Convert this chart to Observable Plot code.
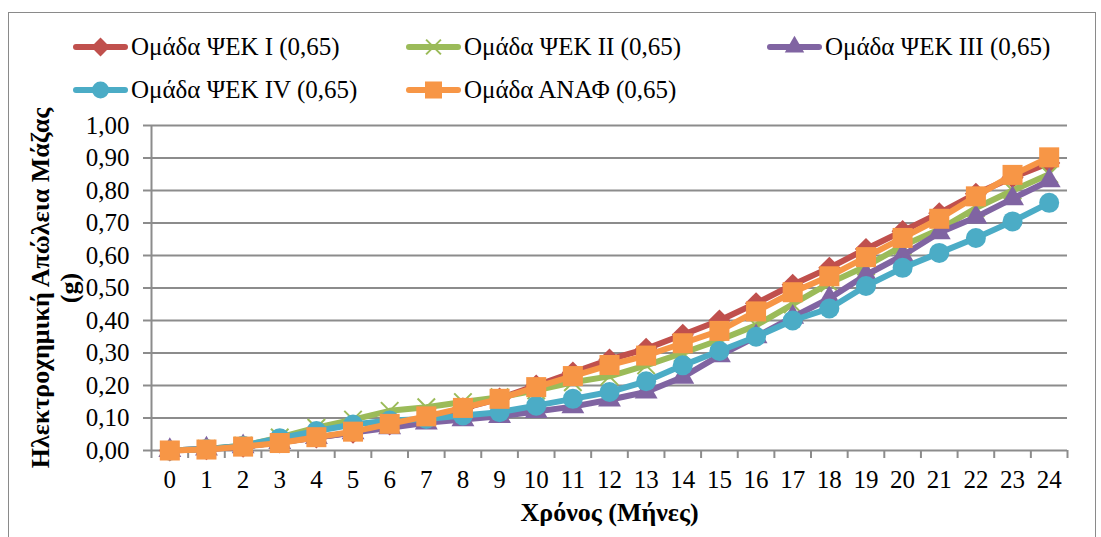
<!DOCTYPE html>
<html><head><meta charset="utf-8">
<script src="https://cdn.jsdelivr.net/npm/d3@7"></script>
<script src="https://cdn.jsdelivr.net/npm/@observablehq/plot@0.6"></script>
<style>
body{margin:0;background:#fff;}
#wrap{position:relative;width:1101px;height:537px;overflow:hidden;font-family:"Liberation Serif","Tinos","Times New Roman","DejaVu Serif","Noto Serif",serif;background:#fff;}
#frame{position:absolute;left:8px;top:12px;width:1088px;height:600px;border:1.5px solid #8a8a8a;box-sizing:border-box;}
#chart{position:absolute;left:0;top:0;}
.leg{position:absolute;display:flex;align-items:center;font-size:25px;white-space:nowrap;color:#000;}
.leg svg{margin-right:3px;}
</style></head>
<body><div id="wrap"><div id="frame"></div><div id="chart"></div><div id="legend"></div></div>
<script>
// ---- data ----
const months = [0,1,2,3,4,5,6,7,8,9,10,11,12,13,14,15,16,17,18,19,20,21,22,23,24];
const seriesNames = ["Ομάδα ΨΕΚ I (0,65)", "Ομάδα ΨΕΚ II (0,65)", "Ομάδα ΨΕΚ III (0,65)", "Ομάδα ΨΕΚ IV (0,65)", "Ομάδα ΑΝΑΦ (0,65)"];
const groupI   = [0, 0.004, 0.012, 0.025, 0.040, 0.055, 0.080, 0.100, 0.130, 0.160, 0.200, 0.240, 0.280, 0.313, 0.356, 0.400, 0.453, 0.510, 0.562, 0.620, 0.675, 0.730, 0.790, 0.840, 0.885];
const groupII  = [0, 0.005, 0.015, 0.040, 0.070, 0.095, 0.122, 0.133, 0.149, 0.164, 0.185, 0.210, 0.228, 0.262, 0.300, 0.340, 0.385, 0.450, 0.515, 0.567, 0.630, 0.680, 0.746, 0.800, 0.850];
const groupIII = [0, 0.005, 0.012, 0.025, 0.040, 0.055, 0.070, 0.085, 0.095, 0.105, 0.120, 0.135, 0.156, 0.180, 0.226, 0.292, 0.350, 0.410, 0.468, 0.540, 0.600, 0.670, 0.718, 0.775, 0.830];
const groupIV  = [0, 0.005, 0.015, 0.038, 0.060, 0.080, 0.092, 0.097, 0.108, 0.118, 0.138, 0.159, 0.180, 0.213, 0.262, 0.306, 0.350, 0.400, 0.437, 0.506, 0.562, 0.608, 0.654, 0.705, 0.762];
const groupAnaf= [0, 0.003, 0.012, 0.023, 0.041, 0.058, 0.082, 0.105, 0.131, 0.159, 0.195, 0.229, 0.263, 0.292, 0.330, 0.368, 0.428, 0.487, 0.536, 0.595, 0.654, 0.713, 0.782, 0.848, 0.902];
const yTicks = [0, 0.1, 0.2, 0.3, 0.4, 0.5, 0.6, 0.7, 0.8, 0.9, 1.0];
const xTitle = "Χρόνος (Μήνες)";
const yTitle = "Ηλεκτροχημική Απώλεια Μάζας\n(g)";

// ---- styles ----
const seriesValues = [groupI, groupII, groupIII, groupIV, groupAnaf];
const seriesStyle = [
  {color: "#C0504D", symbol: "diamond2", r: 10, filled: true},
  {color: "#9BBB59", symbol: "times", r: 8, filled: false},
  {color: "#8064A2", symbol: "triangle", r: 8.5, filled: true},
  {color: "#4BACC6", symbol: "circle", r: 10, filled: true},
  {color: "#F79646", symbol: "square", r: 11.3, filled: true}
];
const gray = "#8c8c8c";
const serif = "'Liberation Serif','Tinos','Times New Roman','DejaVu Serif','Noto Serif',serif";
const fmt = d => d.toFixed(2).replace(".", ",");

const rows = seriesNames.flatMap((name, s) => months.map((m, i) => ({series: name, s, month: m, value: seriesValues[s][i]})));
const boundaries = d3.range(-0.5, months.length, 1);

const marks = [
  Plot.gridY(yTicks, {stroke: gray, strokeOpacity: 1, strokeWidth: 2}),
  Plot.ruleX([-0.5], {stroke: gray, strokeWidth: 2}),
  Plot.axisY(yTicks, {tickSize: 8, tickPadding: 14, tickFormat: fmt, fontSize: 25, fontFamily: serif, stroke: gray, strokeWidth: 2, fill: "#000", label: null}),
  Plot.axisX(boundaries, {tickSize: 8, tickFormat: () => "", stroke: gray, strokeWidth: 2, label: null}),
  Plot.axisX(months, {tickSize: 0, tickPadding: 20, fontSize: 25, fontFamily: serif, fill: "#000", label: null, tickFormat: d => String(d)})
];
seriesNames.forEach((name, s) => {
  const st = seriesStyle[s];
  const data = rows.filter(d => d.s === s);
  marks.push(Plot.line(data, {x: "month", y: "value", stroke: st.color, strokeWidth: 6, strokeLinejoin: "round", strokeLinecap: "round"}));
  marks.push(Plot.dot(data, st.filled
    ? {x: "month", y: "value", symbol: () => st.symbol, r: st.r, fill: st.color, stroke: "none"}
    : {x: "month", y: "value", symbol: () => st.symbol, r: st.r, fill: "none", stroke: st.color, strokeWidth: 2}));
});
marks.push(Plot.text([yTitle], {frameAnchor: "left", textAnchor: "middle", rotate: -90, dx: -97.5, fontSize: 26, fontFamily: serif, fontWeight: "bold", lineAnchor: "middle", lineHeight: 1.12, fill: "#000"}));
marks.push(Plot.text([xTitle], {frameAnchor: "bottom", dy: 70, fontSize: 26, fontFamily: serif, fontWeight: "bold", fill: "#000"}));

const chart = Plot.plot({
  width: 1101, height: 537,
  marginLeft: 151, marginRight: 34, marginTop: 125, marginBottom: 87,
  x: {domain: [-0.5, months.length - 0.5]},
  y: {domain: [0, 1]},
  symbol: {type: "identity"},
  style: {fontFamily: serif, fontSize: "24px", background: "transparent", color: "#000", overflow: "visible"},
  marks
});
document.getElementById("chart").appendChild(chart);

// ---- legend (HTML) ----
const legPos = [[73, 47], [406, 47], [767, 47], [73, 90], [406, 90]];
const symMap = {diamond2: d3.symbolDiamond2, times: d3.symbolTimes, triangle: d3.symbolTriangle, circle: d3.symbolCircle, square: d3.symbolSquare};
const legend = document.getElementById("legend");
seriesNames.forEach((name, s) => {
  const st = seriesStyle[s];
  const div = document.createElement("div");
  div.className = "leg";
  div.style.left = legPos[s][0] + "px";
  div.style.top = (legPos[s][1] - 15) + "px";
  div.style.height = "30px";
  const size = Math.PI * (st.r * 0.85) ** 2;
  const path = d3.symbol(symMap[st.symbol], size)();
  div.innerHTML = `<svg width="55" height="30"><line x1="3" x2="52" y1="15" y2="15" stroke="${st.color}" stroke-width="6" stroke-linecap="round"/>` +
    `<path transform="translate(27.5,15)" d="${path}" fill="${st.filled ? st.color : "none"}" stroke="${st.filled ? "none" : st.color}" stroke-width="2"/></svg>` +
    `<span>${name}</span>`;
  legend.appendChild(div);
});
</script>
</body></html>
